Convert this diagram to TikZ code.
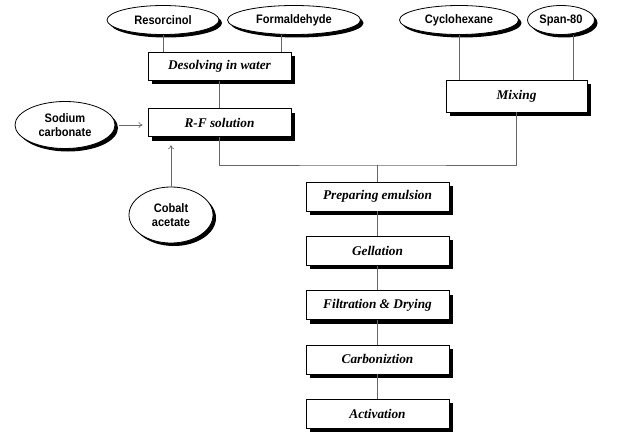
\documentclass[tikz,border=0pt]{standalone}
\usepackage{fontspec}
\setmainfont{Liberation Serif}
\newfontfamily\inputfont[FakeStretch=0.9]{Liberation Sans Bold}
\usetikzlibrary{positioning,arrows.meta,shapes.geometric,shadows}

\begin{document}
\begin{tikzpicture}[x=1pt, y=-1pt, node distance=24.5pt,
  stepbox/.style={rectangle, draw, fill=white, line width=0.8pt, minimum width=143pt, minimum height=29pt, inner sep=0pt, font=\fontsize{13.3}{15}\selectfont\bfseries\itshape, drop shadow={shadow xshift=4pt, shadow yshift=-4pt, opacity=1, fill=black}},
  input/.style={ellipse, draw, fill=white, line width=0.8pt, inner sep=0pt, minimum height=29pt, align=center, font=\fontsize{12.3}{14.5}\selectfont\inputfont, drop shadow={shadow xshift=3pt, shadow yshift=-3pt, opacity=1, fill=black}},
  conn/.style={draw=black!60, line width=0.6pt},
  feed/.style={conn, -{To[length=4pt,width=6pt]}}]
  \useasboundingbox (0,0) rectangle (623,433);

  % raw materials
  \node[input, minimum width=112pt] (res) at (163,20) {Resorcinol};
  \node[input, minimum width=133pt] (form) at (294,20) {Formaldehyde};
  \node[input, minimum width=119pt] (cyc) at (459,20) {Cyclohexane};
  \node[input, minimum width=67pt] (span) at (561,20) {Span-80};
  \node[input, minimum width=100pt, minimum height=47pt] (sod) at (65,125) {Sodium\\carbonate};
  \node[input, minimum width=84pt, minimum height=56pt] (cob) at (171,215) {Cobalt\\acetate};

  % process steps
  \node[stepbox, minimum height=28pt] (dis) at (219.5,66.5) {Desolving in water};
  \node[stepbox, minimum height=28pt, below=27.5pt of dis] (rf) {R-F solution};
  \node[stepbox, minimum width=141pt, minimum height=32pt] (mix) at (516.5,96) {Mixing};
  \node[stepbox] (prep) at (377.5,196.5) {Preparing emulsion};
  \node[stepbox, below=of prep] (gel) {Gellation};
  \node[stepbox, below=of gel] (dry) {Filtration \& Drying};
  \node[stepbox, below=of dry] (carb) {Carboniztion};
  \node[stepbox, below=of carb] (act) {Activation};
  \coordinate (join) at (377.5,165);

  % connectors
  \draw[conn] (res.south) -- (res.south |- dis.north);
  \draw[conn] ([xshift=-13pt]form.south) -- ([xshift=-13pt]form.south |- dis.north);
  \draw[conn] (cyc.south) -- (cyc.south |- mix.north);
  \draw[conn] ([xshift=12pt]span.south) -- ([xshift=12pt]span.south |- mix.north);
  \draw[conn] (dis) -- (rf);
  \draw[conn] (rf.south) |- (join) -| (mix.south);
  \draw[conn] (join) -- (prep);
  \foreach \a/\b in {prep/gel, gel/dry, dry/carb, carb/act}
    \draw[conn] (\a) -- (\b);
  \draw[feed, shorten <=4pt, shorten >=5pt] (sod.east) -- (sod.east -| rf.west);
  \draw[feed, shorten >=8pt] (cob.north) -- (cob.north |- rf.south);
\end{tikzpicture}
\end{document}
